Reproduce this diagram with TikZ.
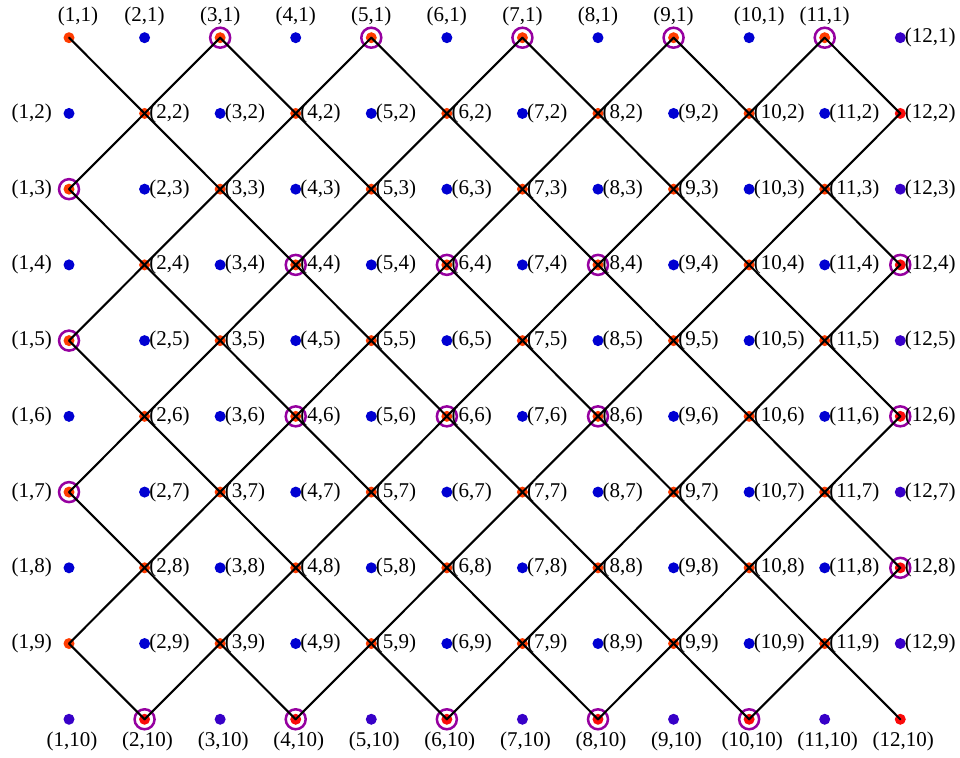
\documentclass[tikz,border=0pt]{standalone}
\usepackage{fontspec}
\setmainfont{Liberation Serif}
\definecolor{dotred}{RGB}{255,60,0}
\definecolor{edgered}{RGB}{250,10,10}
\definecolor{dotblue}{RGB}{0,0,210}
\definecolor{edgeblue}{RGB}{55,0,200}
\definecolor{ringpurple}{RGB}{150,0,160}
\begin{document}
\begin{tikzpicture}[x=1pt,y=-1pt,
  dotnode/.style={circle,inner sep=0pt,minimum size=11pt,draw=none},
  ring/.style={circle,inner sep=0pt,minimum size=20pt,draw=ringpurple,line width=2.5pt},
  lbl/.style={inner sep=0pt,font=\fontsize{21}{25}\selectfont},
  labove/.style={anchor=center,yshift=21pt},
  lbelow/.style={anchor=center,yshift=-22pt,xshift=3pt},
  lleft/.style={anchor=east,xshift=-17pt},
  lright/.style={anchor=west,xshift=4.5pt},
  edge/.style={black,line width=2.1pt,line cap=round}]
\useasboundingbox (0,0) rectangle (960,757);
% dots
\foreach \i in {1,...,12}{
  \foreach \j in {1,...,10}{
    \pgfmathsetmacro\xx{69+75.57*(\i-1)}
    \pgfmathsetmacro\yy{37.7+75.73*(\j-1)}
    \pgfmathtruncatemacro\pq{mod(\i+\j,2)}
    \pgfmathtruncatemacro\ed{(\i==12)||(\j==10)}
    \ifnum\pq=0
      \ifnum\ed=1 \def\dc{edgered}\else\def\dc{dotred}\fi
    \else
      \ifnum\ed=1 \def\dc{edgeblue}\else\def\dc{dotblue}\fi
    \fi
    \node[dotnode,fill=\dc] (p-\i-\j) at (\xx,\yy) {};
  }
}
% rings
\foreach \a/\b in {3/1,5/1,7/1,9/1,11/1,1/3,1/5,1/7,4/4,6/4,8/4,4/6,6/6,8/6,12/4,12/6,12/8,2/10,4/10,6/10,8/10,10/10}{
  \node[ring] (c-\a-\b) at (p-\a-\b.center) {};
}
% diagonal connectors
\foreach \i in {1,...,11}{
  \foreach \j in {1,...,10}{
    \pgfmathtruncatemacro\pq{mod(\i+\j,2)}
    \ifnum\pq=0
      \pgfmathtruncatemacro\ni{\i+1}
      \ifnum\j<10
        \pgfmathtruncatemacro\nj{\j+1}
        \draw[edge] (p-\i-\j.center) -- (p-\ni-\nj.center);
      \fi
      \ifnum\j>1
        \pgfmathtruncatemacro\mj{\j-1}
        \draw[edge] (p-\i-\j.center) -- (p-\ni-\mj.center);
      \fi
    \fi
  }
}
% labels
\foreach \i in {1,...,12}{
  \foreach \j in {1,...,10}{
    \pgfmathsetmacro\dx{(\j==1)*((\i==1)*9+(\i==10)*10)}
    \ifnum\j=1
      \ifnum\i<12
        \node[lbl,labove,xshift=\dx pt] (l-\i-\j) at (p-\i-\j.center) {(\i,\j)};
      \else
        \node[lbl,lright] (l-\i-\j) at (p-\i-\j.center) {(\i,\j)};
      \fi
    \else
      \ifnum\j=10
        \node[lbl,lbelow] (l-\i-\j) at (p-\i-\j.center) {(\i,\j)};
      \else
        \ifnum\i=1
          \node[lbl,lleft] (l-\i-\j) at (p-\i-\j.center) {(\i,\j)};
        \else
          \node[lbl,lright] (l-\i-\j) at (p-\i-\j.center) {(\i,\j)};
        \fi
      \fi
    \fi
  }
}
\end{tikzpicture}
\end{document}
